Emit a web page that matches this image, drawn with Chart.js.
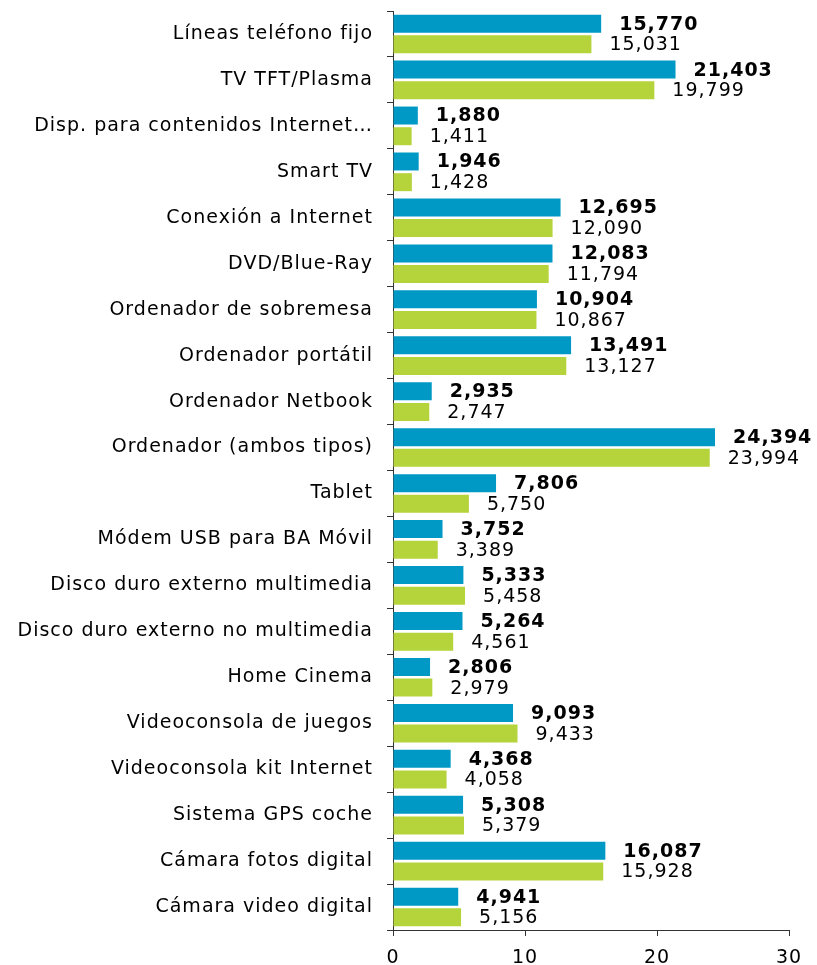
<!DOCTYPE html>
<html>
<head>
<meta charset="utf-8">
<script src="https://cdn.jsdelivr.net/npm/chart.js@4.4.1/dist/chart.umd.min.js"></script>
<style>
  body { margin:0; background:#fff; }
  #wrap { width:817px; height:965px; position:relative; }
</style>
</head>
<body>
<div id="wrap"><canvas id="myChart"></canvas></div>
<script>
var categories = ["Líneas teléfono fijo","TV TFT/Plasma","Disp. para contenidos Internet…","Smart TV","Conexión a Internet","DVD/Blue-Ray","Ordenador de sobremesa","Ordenador portátil","Ordenador Netbook","Ordenador (ambos tipos)","Tablet","Módem USB para BA Móvil","Disco duro externo multimedia","Disco duro externo no multimedia","Home Cinema","Videoconsola de juegos","Videoconsola kit Internet","Sistema GPS coche","Cámara fotos digital","Cámara video digital"]
var blueValues = [15.770,21.403,1.880,1.946,12.695,12.083,10.904,13.491,2.935,24.394,7.806,3.752,5.333,5.264,2.806,9.093,4.368,5.308,16.087,4.941]
var greenValues = [15.031,19.799,1.411,1.428,12.090,11.794,10.867,13.127,2.747,23.994,5.750,3.389,5.458,4.561,2.979,9.433,4.058,5.379,15.928,5.156]
var xTicks = [0,10,20,30]

var fnt = "'DejaVu Sans', Verdana, sans-serif"

function fmt(v){
  return v.toFixed(3).replace('.', ',')
}

// the original text is a bit wider than DejaVu, so spread letters a little
var spacing = {
  id: 'spacing',
  beforeDraw: function(chart){ chart.ctx.letterSpacing = '1px' }
}

// value labels next to each bar
var valueLabels = {
  id: 'valueLabels',
  afterDatasetsDraw: function(chart){
    var ctx = chart.ctx
    ctx.save()
    ctx.letterSpacing = '1px'
    ctx.textBaseline = 'middle'
    ctx.textAlign = 'left'
    ctx.fillStyle = '#000'
    chart.data.datasets.forEach(function(ds, di){
      var meta = chart.getDatasetMeta(di)
      ctx.font = (di == 0 ? 'bold ' : '') + '19px ' + fnt
      meta.data.forEach(function(bar, i){
        ctx.fillText(fmt(ds.data[i]), bar.x + 18, bar.y + 1)
      })
    })
    ctx.restore()
  }
}

const myChart = new Chart("myChart", {
  type: "bar",
  data: {
    labels: categories,
    datasets: [
      {data: blueValues, backgroundColor: '#0099c6', barPercentage: 0.87, categoryPercentage: 0.9},
      {data: greenValues, backgroundColor: '#b5d33a', barPercentage: 0.87, categoryPercentage: 0.9}
    ]
  },
  options: {
    indexAxis: 'y',
    responsive: true,
    maintainAspectRatio: false,
    animation: false,
    layout: {padding: {top: 11, right: 28, left: 0, bottom: 0}},
    plugins: {legend: {display: false}, tooltip: {enabled: false}},
    scales: {
      x: {
        min: 0, max: 30,
        afterBuildTicks: function(s){ s.ticks = xTicks.map(function(v){ return {value: v} }) },
        afterFit: function(s){ s.height = 35 },
        grid: {drawOnChartArea: false, drawTicks: true, tickLength: 6, color: '#333'},
        border: {display: true, color: '#333'},
        ticks: {color: '#000', padding: 11, font: {family: fnt, size: 19}}
      },
      y: {
        afterFit: function(s){ s.width = 393; s.paddingTop = 0; s.paddingBottom = 0 },
        grid: {drawOnChartArea: false, drawTicks: true, tickLength: 6, color: '#333', offset: true},
        border: {display: true, color: '#333'},
        ticks: {color: '#000', padding: 14, font: {family: fnt, size: 19}, autoSkip: false}
      }
    }
  },
  plugins: [spacing, valueLabels]
});
</script>
</body>
</html>
